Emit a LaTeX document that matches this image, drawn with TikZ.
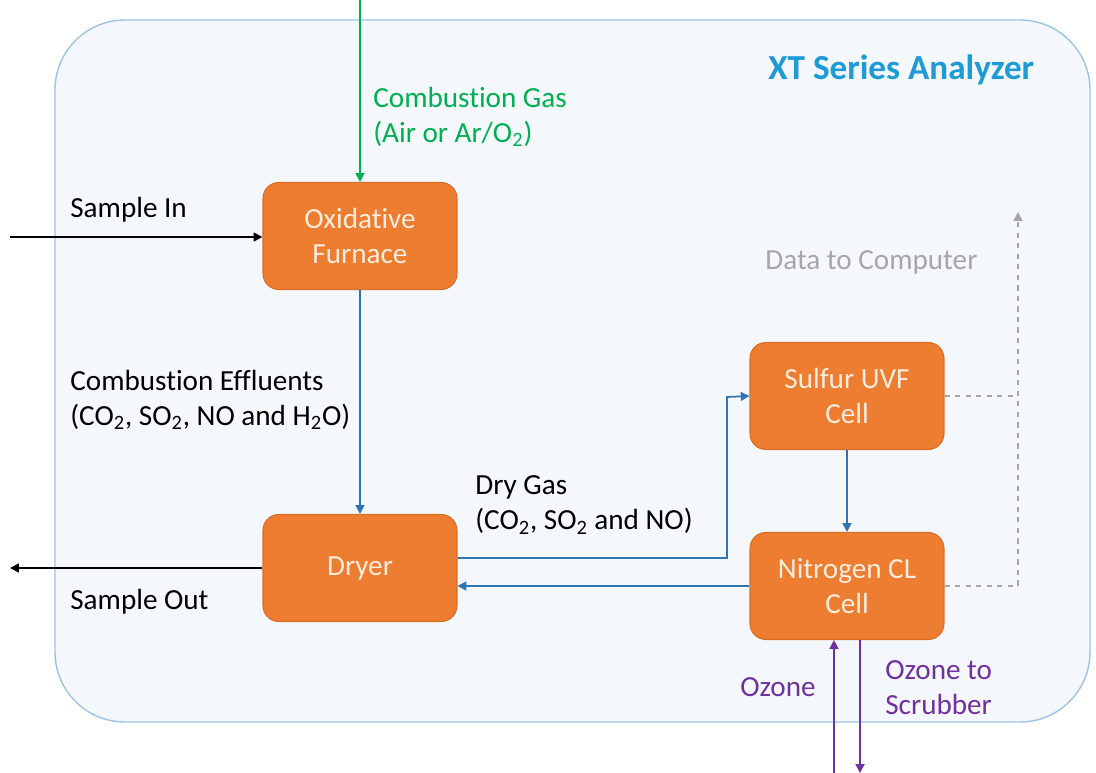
\documentclass[tikz,border=0pt]{standalone}
\usepackage{fontspec}
\setmainfont{Carlito}[Ligatures=NoCommon]
\usepackage{xcolor}
\usetikzlibrary{positioning,arrows.meta}

\definecolor{boxorange}{RGB}{237,125,49}
\definecolor{boxedge}{RGB}{214,110,40}
\definecolor{boxtext}{RGB}{255,236,220}
\definecolor{flowblue}{RGB}{46,117,182}
\definecolor{gasgreen}{RGB}{0,176,80}
\definecolor{ozonepurple}{RGB}{112,48,160}
\definecolor{datagray}{RGB}{166,166,166}
\definecolor{titleblue}{RGB}{30,155,215}
\definecolor{panelfill}{RGB}{244,248,252}
\definecolor{paneledge}{RGB}{157,195,230}

\tikzset{
  unit/.style={draw=boxedge, fill=boxorange, rounded corners=9pt, text=boxtext,
    minimum width=3.88cm, minimum height=2.14cm, align=center, line width=0.6pt},
  lbl/.style={align=left, inner sep=0pt},
  tip/.style={-{Triangle[length=5pt,width=5pt]}},
}

\begin{document}
\begin{tikzpicture}[x=0.02cm, y=-0.02cm, font=\fontsize{16.6}{20}\selectfont]
\useasboundingbox (0,0) rectangle (1096,773);

% analyzer panel
\draw[paneledge, fill=panelfill, rounded corners=1.4cm, line width=0.8pt]
    (55,20) rectangle (1090,722);
\node[lbl, anchor=west, text=titleblue, font=\fontsize{20}{24}\selectfont\bfseries] (title) at (768,70) {XT Series Analyzer};

% process units
\node[unit] (furnace) at (360,236) {Oxidative\\Furnace};
\node[unit] (dryer) at (360,568) {Dryer};
\node[unit] (sulfur) at (847,396) {Sulfur UVF\\Cell};
\node[unit] (nitrogen) at (847,586) {Nitrogen CL\\Cell};

% free ends
\coordinate (gasin) at (360,0);
\coordinate (samplein) at (10,237);
\coordinate (sampleout) at (10,568);
\coordinate (datatop) at (1018,212);
\coordinate (ozonein) at (834,773);
\coordinate (ozoneout) at (860,773);

% gas and sample lines
\draw[gasgreen, tip, line width=1pt] (gasin) -- (furnace.north);
\node[lbl, anchor=west, text=gasgreen] (gaslabel) at (373,117) {Combustion Gas\\(Air or Ar/O\textsubscript{2})};

\draw[black, tip, line width=1pt] (samplein) -- (furnace.west |- samplein);
\node[lbl, anchor=west] (inlabel) at (70,210) {Sample In};

\draw[black, tip, line width=1pt] (dryer.west) -- (sampleout);
\node[lbl, anchor=west] (outlabel) at (70,602) {Sample Out};

% flow between units
\draw[flowblue, tip, line width=1pt] (furnace.south) -- (dryer.north);
\node[lbl, anchor=west] (efflabel) at (70,400) {Combustion Effluents\\(CO\textsubscript{2}, SO\textsubscript{2}, NO and H\textsubscript{2}O)};

\draw[flowblue, tip, line width=1pt] ([yshift=0.2cm]dryer.east) -| (727,397) -- (sulfur.west);
\node[lbl, anchor=west] (drylabel) at (475,505) {Dry Gas\\(CO\textsubscript{2}, SO\textsubscript{2} and NO)};

\draw[flowblue, tip, line width=1pt] (sulfur.south) -- (nitrogen.north);
\draw[flowblue, tip, line width=1pt] (nitrogen.west) -- (dryer.east |- nitrogen.west);

% data lines
\draw[datagray, dashed, line width=1pt] (sulfur.east) -- (sulfur.east -| datatop);
\draw[datagray, dashed, tip, line width=1pt] (nitrogen.east) -| (datatop);
\node[lbl, anchor=west, text=datagray] (datalabel) at (765,262) {Data to Computer};

% ozone lines
\draw[ozonepurple, tip, line width=1pt] (ozonein) -- (nitrogen.south -| ozonein);
\draw[ozonepurple, tip, line width=1pt] (nitrogen.south -| ozoneout) -- (ozoneout);
\node[lbl, anchor=east, text=ozonepurple] (ozlabel) at (816,687) {Ozone};
\node[lbl, anchor=west, text=ozonepurple] (scrublabel) at (885,688) {Ozone to\\Scrubber};

\end{tikzpicture}
\end{document}
